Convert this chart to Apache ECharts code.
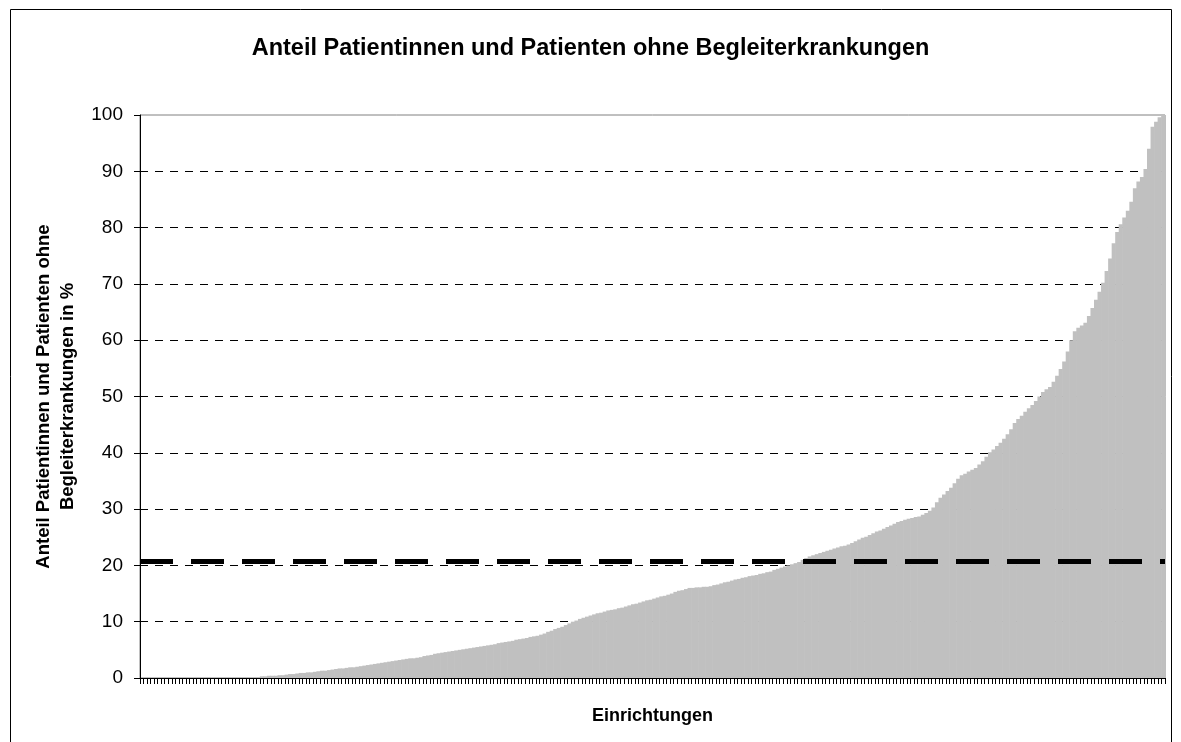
<!DOCTYPE html>
<html>
<head>
<meta charset="utf-8">
<script src="https://cdn.jsdelivr.net/npm/echarts@6/dist/echarts.min.js"></script>
<style>
html,body{margin:0;padding:0;background:#fff;}
#chart{width:1181px;height:742px;}
</style>
</head>
<body>
<div id="chart"></div>
<script>
const titleText = "Anteil Patientinnen und Patienten ohne Begleiterkrankungen";
const yAxisTitle = "Anteil Patientinnen und Patienten ohne\nBegleiterkrankungen in %";
const xAxisTitle = "Einrichtungen";
const yTicks = [0, 10, 20, 30, 40, 50, 60, 70, 80, 90, 100];
const referenceValue = 20.8;
const values = [
  0,0,0,0,0,0,0,0,0,0,0,0,0,0,0,0,0,0,0,0,0,0,0,0,0,0,0,0,0,0,0,0,0,0,
  0.3,0.3,0.4,0.4,0.4,0.5,0.5,0.6,0.7,0.7,0.8,0.9,0.9,1.0,1.0,1.1,
  1.2,1.3,1.3,1.4,1.5,1.6,1.7,1.7,1.8,1.9,1.9,2.0,2.1,2.2,2.3,2.4,
  2.5,2.6,2.7,2.8,2.9,3.0,3.1,3.2,3.3,3.4,3.5,3.5,3.6,3.7,3.9,4.0,
  4.1,4.3,4.4,4.5,4.6,4.7,4.8,4.9,5.0,5.1,5.2,5.3,5.4,5.5,5.6,5.7,
  5.8,5.9,6.0,6.2,6.3,6.4,6.5,6.6,6.8,6.9,7.0,7.1,7.3,7.4,7.5,7.7,
  7.9,8.2,8.4,8.7,8.9,9.1,9.4,9.7,10.0,10.2,10.5,10.7,10.9,11.1,11.3,11.5,
  11.6,11.8,12.0,12.1,12.2,12.4,12.5,12.7,12.9,13.1,13.2,13.4,13.6,13.8,13.9,14.1,
  14.3,14.5,14.6,14.8,15.0,15.3,15.5,15.6,15.8,16.0,16.0,16.1,16.1,16.2,16.2,16.3,
  16.5,16.6,16.8,17.0,17.1,17.3,17.5,17.6,17.8,17.9,18.1,18.2,18.3,18.5,18.6,18.8,
  18.9,19.2,19.4,19.6,19.8,20.0,20.2,20.4,20.6,21.0,21.3,21.6,21.8,22.0,22.2,22.4,
  22.6,22.8,23.0,23.2,23.4,23.5,23.7,24.0,24.3,24.6,24.9,25.1,25.4,25.7,26.0,26.2,
  26.5,26.8,27.1,27.4,27.7,27.9,28.1,28.3,28.4,28.6,28.7,29.0,29.3,29.7,30.3,31.2,
  32.0,32.6,33.2,33.8,34.6,35.4,36.0,36.3,36.7,37.0,37.3,37.9,38.5,39.3,40.1,40.6,
  41.2,41.8,42.5,43.3,44.2,45.3,46.0,46.6,47.3,47.9,48.5,49.2,50.0,50.8,51.3,51.7,
  52.6,53.7,54.9,56.2,58.0,60.0,61.6,62.2,62.6,63.1,64.3,65.7,67.2,68.6,70.2,72.3,
  74.5,77.2,79.2,80.6,81.8,83.0,84.6,87.0,88.2,89.0,90.4,94.0,97.9,98.8,99.6,100
];
const categories = values.map((v, i) => String(i + 1));

const chart = echarts.init(document.getElementById('chart'), null, {renderer: 'canvas'});
const FONT = '"Liberation Sans", Arial, sans-serif';
chart.setOption({
  animation: false,
  backgroundColor: '#ffffff',
  title: {
    text: titleText,
    left: 'center',
    top: 32,
    textStyle: {fontFamily: FONT, fontWeight: 'bold', fontSize: 23.5, color: '#000'}
  },
  grid: {
    left: 140, right: 16, top: 115, bottom: 64,
    show: true, borderColor: '#808080', borderWidth: 1, backgroundColor: 'transparent'
  },
  xAxis: {
    type: 'category',
    data: categories,
    name: xAxisTitle,
    nameLocation: 'middle',
    nameGap: 29,
    nameTextStyle: {fontFamily: FONT, fontWeight: 'bold', fontSize: 18, color: '#000'},
    axisLine: {show: true, lineStyle: {color: '#000', width: 1}},
    axisTick: {show: true, interval: 0, length: 6, lineStyle: {color: '#000', width: 1}},
    axisLabel: {show: false},
    splitLine: {show: false}
  },
  yAxis: {
    type: 'value',
    min: yTicks[0],
    max: yTicks[yTicks.length - 1],
    interval: 10,
    name: yAxisTitle,
    nameLocation: 'middle',
    nameGap: 59,
    nameTextStyle: {fontFamily: FONT, fontWeight: 'bold', fontSize: 18.5, color: '#000', lineHeight: 24, align: 'center'},
    axisLine: {show: true, lineStyle: {color: '#000', width: 1}},
    axisTick: {show: true, length: 6, lineStyle: {color: '#000', width: 1}},
    axisLabel: {fontFamily: FONT, fontSize: 19, color: '#000', margin: 17},
    splitLine: {show: true, showMaxLine: false, lineStyle: {color: '#000', width: 1, type: [8, 7]}}
  },
  series: [{
    type: 'bar',
    data: values,
    barWidth: '118%',
    barCategoryGap: '0%',
    itemStyle: {color: '#c0c0c0'},
    silent: true,
    markLine: {
      silent: true,
      symbol: ['none', 'none'],
      label: {show: false},
      lineStyle: {color: '#000', width: 5, type: [33, 18]},
      data: [{yAxis: referenceValue}]
    }
  }],
  graphic: [{
    type: 'rect',
    shape: {x: 10.5, y: 9.5, width: 1161, height: 745},
    style: {fill: 'none', stroke: '#000', lineWidth: 1},
    silent: true,
    z: 100
  }]
});
</script>
</body>
</html>
